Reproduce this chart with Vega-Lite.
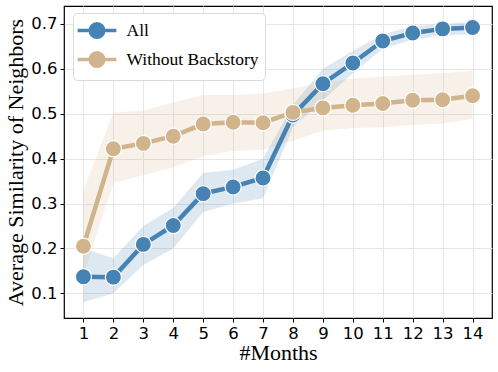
{
  "$schema": "https://vega.github.io/schema/vega-lite/v6.json",
  "width": 428,
  "height": 312,
  "autosize": "none",
  "padding": {"left": 64, "top": 6, "right": 6, "bottom": 54},
  "background": "white",
  "config": {
    "view": {"stroke": "black", "strokeWidth": 1.2},
    "axis": {
      "gridColor": "#e6e6e6",
      "gridWidth": 1,
      "domain": false,
      "tickColor": "black",
      "tickSize": 4,
      "labelFont": "DejaVu Sans",
      "labelFontSize": 16.5,
      "labelColor": "black",
      "titleFont": "Liberation Serif",
      "titleFontSize": 22,
      "titleFontWeight": "normal",
      "titleColor": "black"
    }
  },
  "data": {
    "values": [
      {"month": 1, "series": "All", "mean": 0.137, "lo": 0.08, "hi": 0.20},
      {"month": 2, "series": "All", "mean": 0.136, "lo": 0.10, "hi": 0.178},
      {"month": 3, "series": "All", "mean": 0.209, "lo": 0.163, "hi": 0.25},
      {"month": 4, "series": "All", "mean": 0.251, "lo": 0.20, "hi": 0.29},
      {"month": 5, "series": "All", "mean": 0.322, "lo": 0.281, "hi": 0.368},
      {"month": 6, "series": "All", "mean": 0.337, "lo": 0.30, "hi": 0.375},
      {"month": 7, "series": "All", "mean": 0.357, "lo": 0.312, "hi": 0.40},
      {"month": 8, "series": "All", "mean": 0.497, "lo": 0.47, "hi": 0.52},
      {"month": 9, "series": "All", "mean": 0.567, "lo": 0.53, "hi": 0.60},
      {"month": 10, "series": "All", "mean": 0.613, "lo": 0.59, "hi": 0.64},
      {"month": 11, "series": "All", "mean": 0.662, "lo": 0.645, "hi": 0.677},
      {"month": 12, "series": "All", "mean": 0.68, "lo": 0.665, "hi": 0.695},
      {"month": 13, "series": "All", "mean": 0.689, "lo": 0.675, "hi": 0.70},
      {"month": 14, "series": "All", "mean": 0.692, "lo": 0.677, "hi": 0.705},
      {"month": 1, "series": "Without Backstory", "mean": 0.205, "lo": 0.14, "hi": 0.33},
      {"month": 2, "series": "Without Backstory", "mean": 0.422, "lo": 0.346, "hi": 0.503},
      {"month": 3, "series": "Without Backstory", "mean": 0.434, "lo": 0.363, "hi": 0.507},
      {"month": 4, "series": "Without Backstory", "mean": 0.45, "lo": 0.38, "hi": 0.525},
      {"month": 5, "series": "Without Backstory", "mean": 0.477, "lo": 0.406, "hi": 0.542},
      {"month": 6, "series": "Without Backstory", "mean": 0.481, "lo": 0.417, "hi": 0.542},
      {"month": 7, "series": "Without Backstory", "mean": 0.48, "lo": 0.42, "hi": 0.545},
      {"month": 8, "series": "Without Backstory", "mean": 0.503, "lo": 0.44, "hi": 0.556},
      {"month": 9, "series": "Without Backstory", "mean": 0.513, "lo": 0.462, "hi": 0.57},
      {"month": 10, "series": "Without Backstory", "mean": 0.519, "lo": 0.468, "hi": 0.578},
      {"month": 11, "series": "Without Backstory", "mean": 0.523, "lo": 0.47, "hi": 0.583},
      {"month": 12, "series": "Without Backstory", "mean": 0.53, "lo": 0.475, "hi": 0.587},
      {"month": 13, "series": "Without Backstory", "mean": 0.531, "lo": 0.478, "hi": 0.59},
      {"month": 14, "series": "Without Backstory", "mean": 0.54, "lo": 0.489, "hi": 0.596}
    ]
  },
  "encoding": {
    "x": {
      "field": "month", "type": "quantitative",
      "scale": {"domain": [0.35, 14.65], "nice": false, "zero": false},
      "axis": {"values": [1,2,3,4,5,6,7,8,9,10,11,12,13,14], "title": "#Months", "titlePadding": 1, "labelPadding": 3, "labelOverlap": false}
    },
    "color": {
      "field": "series", "type": "nominal",
      "scale": {"domain": ["All", "Without Backstory"], "range": ["#4682b4", "#d2b48c"]},
      "legend": {
        "title": null,
        "orient": "none",
        "legendX": 9,
        "legendY": 7,
        "symbolType": "M-2,0H-0.7M0.7,0H2M-0.7,0a0.7,0.7 0 1,0 1.4,0a0.7,0.7 0 1,0 -1.4,0",
        "symbolSize": 375,
        "symbolStrokeWidth": 3.5,
        "symbolOpacity": 1,
        "symbolOffset": 6.5,
        "labelFont": "Liberation Serif",
        "labelFontSize": 17.5,
        "labelColor": "black",
        "labelOffset": 18,
        "rowPadding": 0,
        "padding": 6,
        "strokeColor": "#d9d9d9",
        "fillColor": "white",
        "cornerRadius": 4
      }
    }
  },
  "layer": [
    {
      "mark": {"type": "area", "opacity": 0.18},
      "encoding": {
        "y": {"field": "lo", "type": "quantitative"},
        "y2": {"field": "hi"}
      }
    },
    {
      "mark": {"type": "line", "strokeWidth": 4.5},
      "encoding": {
        "y": {
          "field": "mean", "type": "quantitative",
          "scale": {"domain": [0.045, 0.74], "nice": false, "zero": false},
          "axis": {"values": [0.1,0.2,0.3,0.4,0.5,0.6,0.7], "format": ".1f", "title": "Average Similarity of Neighbors", "titlePadding": 3, "labelPadding": 3}
        }
      }
    },
    {
      "mark": {"type": "point", "filled": true, "size": 260, "stroke": "white", "strokeWidth": 1.2, "opacity": 1},
      "encoding": {
        "y": {"field": "mean", "type": "quantitative"}
      }
    }
  ]
}
